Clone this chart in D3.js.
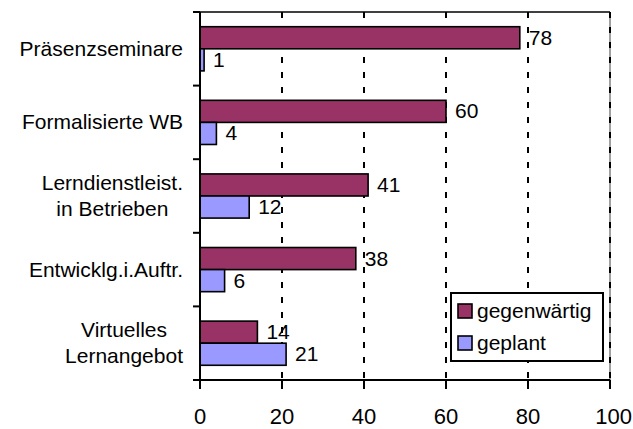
<!DOCTYPE html>
<html>
<head>
<meta charset="utf-8">
<script src="https://cdn.jsdelivr.net/npm/d3@7"></script>
<style>
  body { margin: 0; background: #fff; overflow: hidden; }
  svg { display: block; }
  text { font-family: "Liberation Sans", Arial, sans-serif; fill: #000; }
</style>
</head>
<body>
<svg id="chart"></svg>
<script>
const categories = ["Präsenzseminare", "Formalisierte WB", "Lerndienstleist.\nin Betrieben", "Entwicklg.i.Auftr.", "Virtuelles\nLernangebot"];
const seriesNames = ["gegenwärtig", "geplant"];
const gegenwaertig = [78, 60, 41, 38, 14];
const geplant = [1, 4, 12, 6, 21];
const xTicks = [0, 20, 40, 60, 80, 100];

const colors = { "gegenwärtig": "#993366", "geplant": "#9999FF" };

const width = 633, height = 429;
const margin = { top: 12, right: 23, bottom: 49, left: 200 };

const svg = d3.select("#chart").attr("width", width).attr("height", height);

const x = d3.scaleLinear().domain([0, 100]).range([margin.left, width - margin.right]);
const y = d3.scaleBand().domain(categories).range([margin.top, height - margin.bottom])
    .paddingInner(0.4).paddingOuter(0.2);
const ySub = d3.scaleBand().domain(seriesNames).range([0, y.bandwidth()]);

const plotTop = margin.top, plotBottom = height - margin.bottom;
const data = categories.map((c, i) => ({ cat: c, values: [
    { key: "gegenwärtig", v: gegenwaertig[i] },
    { key: "geplant", v: geplant[i] }
] }));

// plot frame
svg.append("line").attr("x1", x(0)).attr("x2", x(100)).attr("y1", plotTop).attr("y2", plotTop)
    .attr("stroke", "#000").attr("stroke-width", 1.5);
svg.append("line").attr("x1", x(100)).attr("x2", x(100)).attr("y1", plotTop).attr("y2", plotBottom)
    .attr("stroke", "#808080").attr("stroke-width", 1.5);

// gridlines
svg.append("g").selectAll("line").data(xTicks.slice(1)).join("line")
    .attr("x1", d => x(d)).attr("x2", d => x(d))
    .attr("y1", plotTop).attr("y2", plotBottom)
    .attr("stroke", "#000").attr("stroke-width", 2)
    .attr("stroke-dasharray", "6,9");

// bars
const groups = svg.append("g").selectAll("g").data(data).join("g")
    .attr("transform", d => `translate(0,${y(d.cat)})`);

groups.selectAll("rect").data(d => d.values).join("rect")
    .attr("x", x(0))
    .attr("y", d => ySub(d.key))
    .attr("width", d => x(d.v) - x(0))
    .attr("height", ySub.bandwidth())
    .attr("fill", d => colors[d.key])
    .attr("stroke", "#000").attr("stroke-width", 1.6);

groups.selectAll("text").data(d => d.values).join("text")
    .attr("x", d => x(d.v) + 9)
    .attr("y", d => ySub(d.key) + ySub.bandwidth() / 2 + 7)
    .style("font-size", "21px")
    .text(d => d.v);

// x axis
const xAxis = svg.append("g");
xAxis.append("line").attr("x1", x(0)).attr("x2", x(100)).attr("y1", plotBottom).attr("y2", plotBottom)
    .attr("stroke", "#000").attr("stroke-width", 2);
xAxis.selectAll("line.tick").data(xTicks).join("line").attr("class", "tick")
    .attr("x1", d => x(d)).attr("x2", d => x(d)).attr("y1", plotBottom).attr("y2", plotBottom + 9)
    .attr("stroke", "#000").attr("stroke-width", 2);
xAxis.selectAll("text").data(xTicks).join("text")
    .attr("x", d => x(d)).attr("y", 424)
    .attr("text-anchor", d => d === 100 ? "end" : "middle")
    .attr("dx", d => d === 100 ? 22 : 0)
    .style("font-size", "22px")
    .text(d => d);

// y axis
const yAxis = svg.append("g");
yAxis.append("line").attr("x1", x(0)).attr("x2", x(0)).attr("y1", plotTop).attr("y2", plotBottom)
    .attr("stroke", "#000").attr("stroke-width", 2);
const boundaries = d3.range(categories.length + 1)
    .map(i => plotTop + i * (plotBottom - plotTop) / categories.length);
yAxis.selectAll("line.tick").data(boundaries).join("line").attr("class", "tick")
    .attr("x1", x(0) - 7).attr("x2", x(0)).attr("y1", d => d).attr("y2", d => d)
    .attr("stroke", "#000").attr("stroke-width", 2);

const labelRight = x(0) - 17;
categories.forEach(c => {
    const lines = c.split("\n");
    const cy = y(c) + y.bandwidth() / 2;
    const t = yAxis.append("text").style("font-size", "21px").attr("text-anchor", "middle");
    lines.forEach((l, i) => {
        t.append("tspan").attr("y", cy + 7 + (i - (lines.length - 1) / 2) * 26).text(l);
    });
    const widths = [];
    t.selectAll("tspan").each(function () { widths.push(this.getComputedTextLength()); });
    const w = d3.max(widths);
    t.selectAll("tspan").attr("x", labelRight - w / 2);
});

// legend
const legend = svg.append("g").attr("transform", "translate(451,293)");
legend.append("rect").attr("width", 152).attr("height", 68)
    .attr("fill", "#fff").attr("stroke", "#000").attr("stroke-width", 2);
const items = legend.selectAll("g").data(seriesNames).join("g")
    .attr("transform", (d, i) => `translate(7,${11 + i * 32})`);
items.append("rect").attr("width", 14).attr("height", 14)
    .attr("fill", d => colors[d]).attr("stroke", "#000").attr("stroke-width", 1.6);
items.append("text").attr("x", 19).attr("y", 14)
    .style("font-size", "21px").text(d => d);
</script>
</body>
</html>
